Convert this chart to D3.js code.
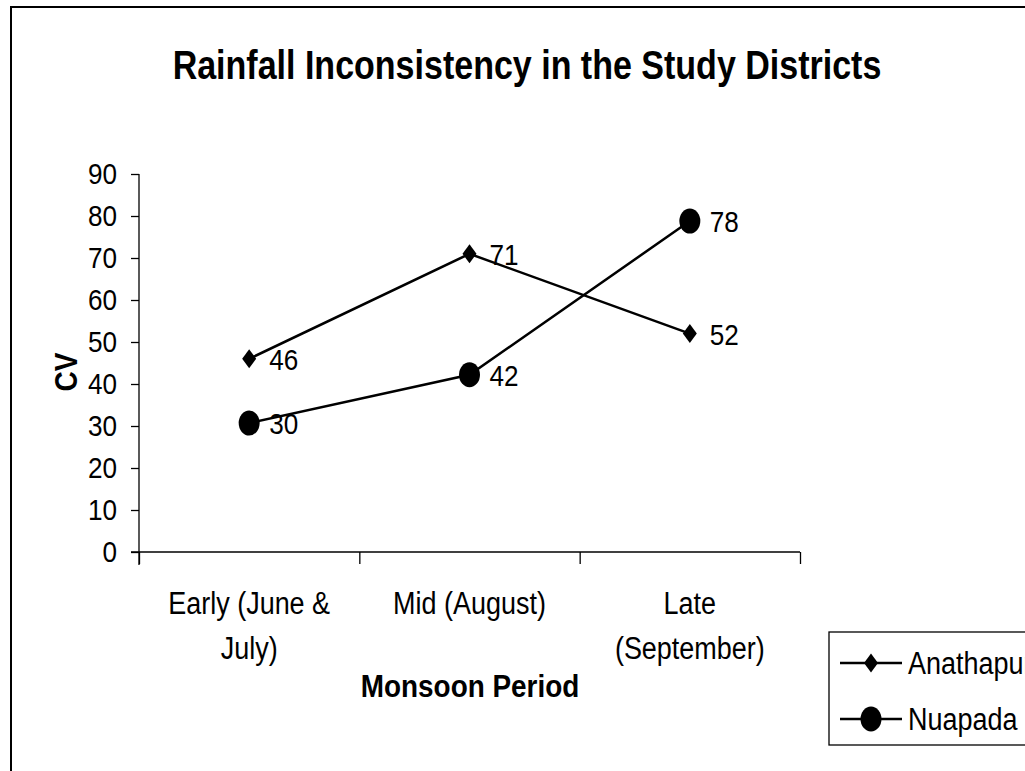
<!DOCTYPE html>
<html>
<head>
<meta charset="utf-8">
<script src="https://cdn.jsdelivr.net/npm/d3@7"></script>
<style>
  body { margin: 0; background: #fff; }
  svg text { font-family: "Liberation Sans", Arial, sans-serif; fill: #000; }
</style>
</head>
<body>
<svg id="chart"></svg>
<script>
// chart data
const categories = ["Early (June & July)", "Mid (August)", "Late (September)"];
const categoryLines = [["Early (June &", "July)"], ["Mid (August)"], ["Late", "(September)"]];
const anathapurValues = [46, 71, 52];
const anathapurLabels = ["46", "71", "52"];
const nuapadaValues = [30.7, 42.2, 78.8];
const nuapadaLabels = ["30", "42", "78"];
const yTicks = [0, 10, 20, 30, 40, 50, 60, 70, 80, 90];

const width = 1025;
const height = 771;
const narrow = 0.87; // the original uses a condensed face

const svg = d3.select("#chart")
  .attr("width", width)
  .attr("height", height);

// squeezed text helper
function addText(parent, x, y, str, size, opts = {}) {
  const g = parent.append("g")
    .attr("transform", `translate(${x},${y}) ${opts.rotate ? `rotate(${opts.rotate})` : ""} scale(${opts.sx || narrow},1)`);
  return g.append("text")
    .attr("text-anchor", opts.anchor || "start")
    .style("font-size", size + "px")
    .style("font-weight", opts.bold ? "bold" : "normal")
    .text(str);
}

// outer frame
svg.append("rect")
  .attr("x", 11).attr("y", 7)
  .attr("width", 1100).attr("height", 900)
  .attr("fill", "none")
  .attr("stroke", "#000")
  .attr("stroke-width", 2);

// scales
const xScale = d3.scaleBand().domain(categories).range([139, 800]);
const xEdges = d3.scaleLinear().domain([0, categories.length]).range([139, 800]);
const yScale = d3.scaleLinear().domain([0, 90]).range([552, 174]);
const xMid = (i) => xScale(categories[i]) + xScale.bandwidth() / 2;

// title
addText(svg, 527, 79, "Rainfall Inconsistency in the Study Districts", 41, { bold: true, anchor: "middle", sx: 0.83 });

// y axis
const yAxis = svg.append("g")
  .attr("transform", "translate(139,0)")
  .call(d3.axisLeft(yScale).tickValues(yTicks).tickSize(8).tickPadding(14).tickSizeOuter(0));
yAxis.select(".domain").attr("d", `M0,${yScale(90)}V565`).attr("stroke-width", 1.3);
yAxis.selectAll(".tick line").attr("stroke-width", 1.3);
yAxis.selectAll(".tick text")
  .attr("font-family", null)
  .attr("x", -22 / narrow)
  .attr("transform", `scale(${narrow},1)`)
  .style("font-size", "30px");

// x axis (tick marks at category boundaries)
const xAxis = svg.append("g")
  .attr("transform", `translate(0,${yScale(0)})`)
  .call(d3.axisBottom(xEdges).ticks(categories.length).tickSize(12).tickFormat("").tickSizeOuter(0));
xAxis.select(".domain").attr("d", "M131,0H800").attr("stroke-width", 1.3);
xAxis.selectAll(".tick line").attr("stroke-width", 1.3);

// category labels
categories.forEach((c, i) => {
  categoryLines[i].forEach((line, j) => {
    addText(svg, xMid(i), 614 + j * 45, line, 31, { anchor: "middle" });
  });
});

// axis titles
addText(svg, 470, 697, "Monsoon Period", 31, { bold: true, anchor: "middle", sx: 0.9 });
addText(svg, 77, 372, "CV", 31, { bold: true, anchor: "middle", rotate: -90, sx: 0.9 });

// marker shapes
const diamondPath = (cx, cy) => `M${cx},${cy - 9.5}L${cx + 7},${cy}L${cx},${cy + 9.5}L${cx - 7},${cy}Z`;

const line = d3.line()
  .x((d, i) => xMid(i))
  .y((d) => yScale(d));

// series lines
[anathapurValues, nuapadaValues].forEach((vals) => {
  svg.append("path")
    .datum(vals)
    .attr("d", line)
    .attr("fill", "none")
    .attr("stroke", "#000")
    .attr("stroke-width", 2.5);
});

// markers
svg.selectAll(".diamond")
  .data(anathapurValues)
  .enter()
  .append("path")
  .attr("class", "diamond")
  .attr("d", (d, i) => diamondPath(xMid(i), yScale(d)))
  .attr("fill", "#000");

svg.selectAll(".dot")
  .data(nuapadaValues)
  .enter()
  .append("ellipse")
  .attr("class", "dot")
  .attr("cx", (d, i) => xMid(i))
  .attr("cy", (d) => yScale(d))
  .attr("rx", 10.5)
  .attr("ry", 12.5)
  .attr("fill", "#000");

// data labels
anathapurValues.forEach((d, i) => {
  addText(svg, xMid(i) + 20, yScale(d) + 11, anathapurLabels[i], 30);
});
nuapadaValues.forEach((d, i) => {
  addText(svg, xMid(i) + 20, yScale(d) + 11, nuapadaLabels[i], 30);
});

// legend
const legend = svg.append("g");
legend.append("rect")
  .attr("x", 829).attr("y", 632)
  .attr("width", 220).attr("height", 113)
  .attr("fill", "#fff")
  .attr("stroke", "#000")
  .attr("stroke-width", 1.3);

const legendItems = [
  { name: "Anathapur", marker: "diamond", y: 663 },
  { name: "Nuapada", marker: "dot", y: 719 }
];
legendItems.forEach((item) => {
  legend.append("line")
    .attr("x1", 840).attr("x2", 902)
    .attr("y1", item.y).attr("y2", item.y)
    .attr("stroke", "#000")
    .attr("stroke-width", 2.5);
  if (item.marker === "diamond") {
    legend.append("path").attr("d", diamondPath(871, item.y)).attr("fill", "#000");
  } else {
    legend.append("ellipse")
      .attr("cx", 871).attr("cy", item.y)
      .attr("rx", 10.5).attr("ry", 12.5)
      .attr("fill", "#000");
  }
  addText(legend, 908, item.y + 11, item.name, 31);
});
</script>
</body>
</html>
